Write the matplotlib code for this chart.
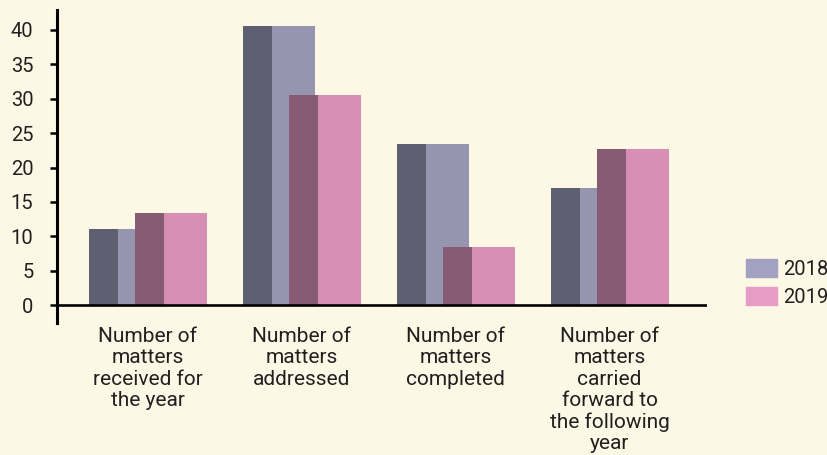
import matplotlib
matplotlib.use("Agg")
import matplotlib.pyplot as plt
from matplotlib.patches import Patch
import numpy as np

categories = [
    "Number of\nmatters\nreceived for\nthe year",
    "Number of\nmatters\naddressed",
    "Number of\nmatters\ncompleted",
    "Number of\nmatters\ncarried\nforward to\nthe following\nyear",
]
years = ["2018", "2019"]
values_2018 = [11, 40.6, 23.4, 17]
values_2019 = [13.4, 30.6, 8.5, 22.7]
yticks = [0, 5, 10, 15, 20, 25, 30, 35, 40]

bg = "#fdf7e5"
txt = "#231f20"
side_colors = ["#5e5f71", "#875b73"]
front_colors = ["#9595b0", "#d68fb3"]
legend_colors = ["#a3a1c1", "#e79cc6"]

plt.rcParams["font.family"] = ["Roboto", "DejaVu Sans"]

fig = plt.figure(figsize=(8.27, 4.55), dpi=100, facecolor=bg)
ax = fig.add_axes([57 / 827, 1 - 323 / 455, 650 / 827, 313 / 455])
ax.set_facecolor(bg)

x = np.arange(len(categories))
side_w = 0.188
front_w = 0.28
offset = 0.30
left = x - 0.38

# each bar = dark side face + lighter front face, 2019 drawn over 2018
for k, vals in enumerate([values_2018, values_2019]):
    start = left + k * offset
    ax.bar(start, vals, width=side_w, align="edge", color=side_colors[k], zorder=2)
    ax.bar(start + side_w, vals, width=front_w, align="edge", color=front_colors[k], zorder=2)

ax.set_xlim(-0.588, -0.588 + 650 / 154)
ax.set_ylim(-2.6, 42.9)
ax.axhline(0, color="black", lw=1.9, zorder=3)

ax.set_yticks(yticks)
ax.set_yticklabels([str(t) for t in yticks], fontsize=14.5, color=txt)
ax.tick_params(axis="y", length=5, width=1.8, pad=12, color="black")
ax.set_xticks(x)
ax.set_xticklabels(categories, fontsize=15, color=txt, linespacing=1.15)
ax.tick_params(axis="x", length=0, pad=3)

for s in ["top", "right", "bottom"]:
    ax.spines[s].set_visible(False)
ax.spines["left"].set_linewidth(2.2)

handles = [Patch(color=c) for c in legend_colors]
fig.legend(handles, years, loc="upper left", bbox_to_anchor=(746 / 827, 1 - 259 / 455),
           frameon=False, fontsize=14.5, handlelength=1.55, handleheight=1.0,
           handletextpad=0.3, labelspacing=0.4, borderpad=0, borderaxespad=0,
           labelcolor=txt)

fig.savefig("out.png", dpi=100, facecolor=bg)
